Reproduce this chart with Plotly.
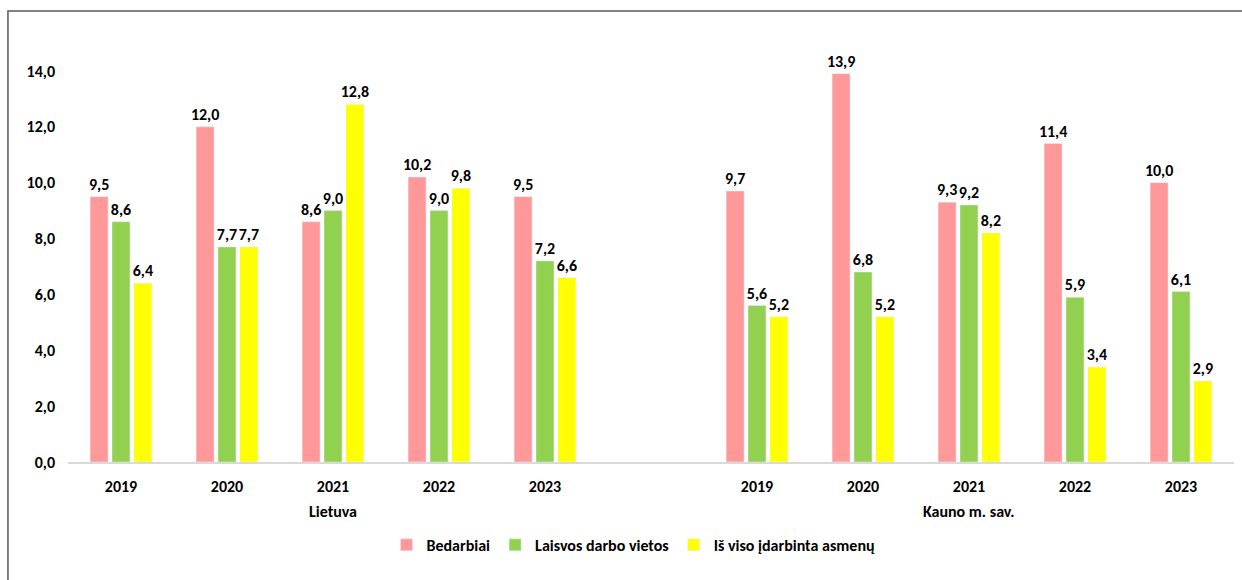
import plotly.graph_objects as go

# -----------------------------------------------------
# Data
# -----------------------------------------------------

years = ["2019", "2020", "2021", "2022", "2023"]
regions = ["Lietuva", "Kauno m. sav."]

series_names = ["Bedarbiai", "Laisvos darbo vietos", "Iš viso įdarbinta asmenų"]

lietuva_bedarbiai = [9.5, 12.0, 8.6, 10.2, 9.5]
lietuva_laisvos = [8.6, 7.7, 9.0, 9.0, 7.2]
lietuva_idarbinta = [6.4, 7.7, 12.8, 9.8, 6.6]

kaunas_bedarbiai = [9.7, 13.9, 9.3, 11.4, 10.0]
kaunas_laisvos = [5.6, 6.8, 9.2, 5.9, 6.1]
kaunas_idarbinta = [5.2, 5.2, 8.2, 3.4, 2.9]

colors = ["#FF9999", "#92D050", "#FFFF00"]

# -----------------------------------------------------
# Categories (one blank slot between the two regions)
# -----------------------------------------------------

gap = "tarpas"
lt_cats = [f"{regions[0]} {y}" for y in years]
kn_cats = [f"{regions[1]} {y}" for y in years]
categories = lt_cats + [gap] + kn_cats
tick_text = years + [""] + years

series = [
    lietuva_bedarbiai + [None] + kaunas_bedarbiai,
    lietuva_laisvos + [None] + kaunas_laisvos,
    lietuva_idarbinta + [None] + kaunas_idarbinta,
]

FONT = "Calibri, Carlito, Lato, sans-serif"
SIZE = 16

fig = go.Figure()

for name, values, color in zip(series_names, series, colors):
    fig.add_trace(
        go.Bar(
            x=categories,
            y=values,
            name=name,
            marker=dict(color=color),
            texttemplate="%{y:.1f}",
            textposition="outside",
            constraintext="none",
            cliponaxis=False,
            textfont=dict(family=FONT, size=SIZE, color="#000000", weight="bold"),
        )
    )

# region labels under the middle year
for region, cats in zip(regions, [lt_cats, kn_cats]):
    fig.add_annotation(
        x=cats[2],
        y=-0.117,
        xref="x",
        yref="paper",
        text=region,
        showarrow=False,
        yanchor="middle",
        font=dict(family=FONT, size=SIZE, color="#000000", weight="bold"),
    )

# outer frame
fig.add_shape(
    type="rect",
    xref="paper",
    yref="paper",
    x0=-0.0515,
    x1=1.05,
    y0=-0.6,
    y1=1.0764,
    line=dict(color="#595959", width=1.5),
    fillcolor="rgba(0,0,0,0)",
)

fig.update_layout(
    width=1242,
    height=580,
    barmode="group",
    bargap=0.38,
    bargroupgap=0.18,
    separators=", ",
    paper_bgcolor="white",
    plot_bgcolor="white",
    font=dict(family=FONT, size=SIZE, color="#000000"),
    margin=dict(l=68, r=8, t=43, b=118),
    showlegend=True,
    legend=dict(
        orientation="h",
        x=0.485,
        xanchor="center",
        y=-0.198,
        yanchor="middle",
        font=dict(family=FONT, size=SIZE, color="#000000", weight="bold"),
        itemwidth=30,
    ),
)

fig.update_xaxes(
    type="category",
    categoryorder="array",
    categoryarray=categories,
    tickvals=categories,
    ticktext=tick_text,
    showline=True,
    linecolor="#D9D9D9",
    linewidth=1.5,
    ticks="",
    ticklabelstandoff=9,
    showgrid=False,
    tickfont=dict(family=FONT, size=SIZE, color="#000000", weight="bold"),
)

fig.update_yaxes(
    range=[0, 15],
    tickvals=[0, 2, 4, 6, 8, 10, 12, 14],
    tickformat=".1f",
    showline=False,
    showgrid=False,
    zeroline=False,
    ticks="",
    ticklabelstandoff=12,
    tickfont=dict(family=FONT, size=SIZE, color="#000000", weight="bold"),
)

fig.write_html(
    "out.html",
    config={"displayModeBar": False},
    post_script="document.body.style.margin = '0';",
)
